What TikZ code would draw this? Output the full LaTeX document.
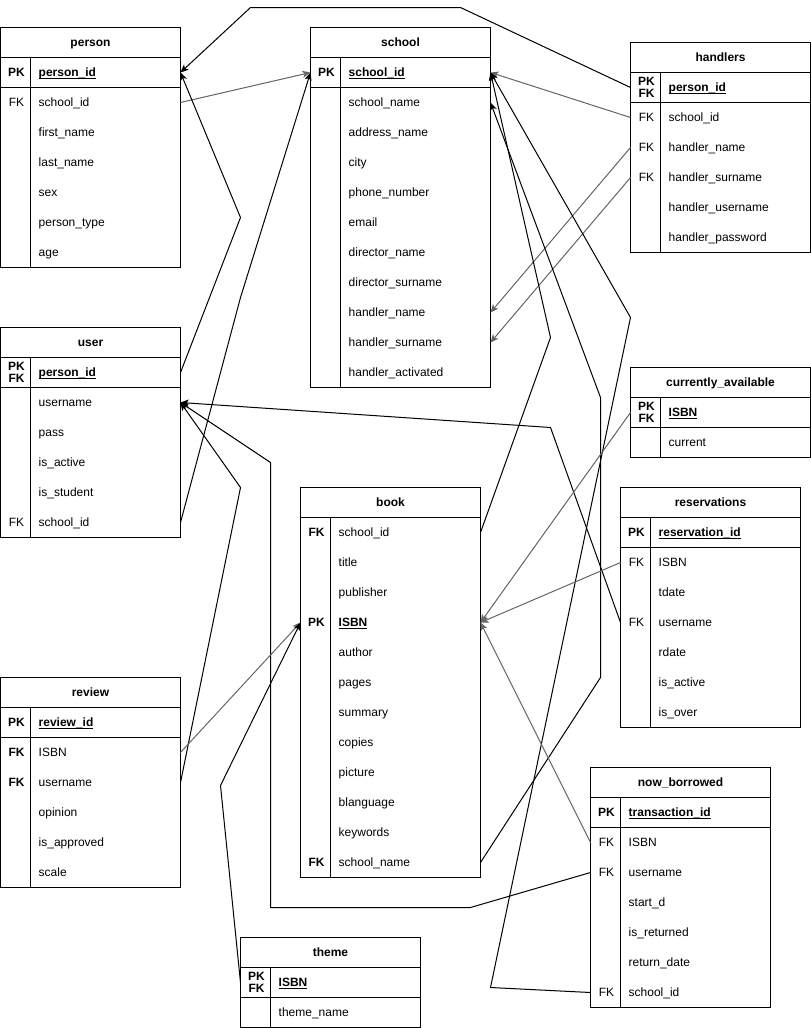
\documentclass[tikz,border=0pt]{standalone}
\usepackage{fontspec}
\setmainfont{Liberation Sans}
\usetikzlibrary{arrows.meta}
\definecolor{edgegray}{HTML}{666666}

% primary key name: bold with an underline at the underscore level
\newcommand\pkname[1]{\setbox0\hbox{\bfseries #1}\rlap{\vrule width \wd0 height -1.3pt depth 2.3pt}\box0}

% one attribute row: name, left x, centre y, key style, key text, field text
\newcommand\erow[6]{%
  \node[rowbox] (#1) at (#2+90,#3) {};
  \node[#4] (#1-k) at (#2+16,#3+4) {#5};
  \node[fieldtext] (#1-f) at (#2+38,#3+4) {#6};}

% table title: name, left x, top y, title
\newcommand\ehead[4]{\node[hdrtext] (#1) at (#2+90,#3+19) {#4};}

% table outline: left x, top y, bottom y
\newcommand\eframe[3]{%
  \draw[tline] (#1,#2) rectangle (#1+180,#3);
  \draw[tline] (#1,#2+30) -- (#1+180,#2+30);
  \draw[tline] (#1+30,#2+30) -- (#1+30,#3);}

% line under the key row: left x, y
\newcommand\ekeyline[2]{\draw[tline] (#1,#2) -- (#1+180,#2);}

\begin{document}
\begin{tikzpicture}[x=1pt,y=-1pt,
  tline/.style={draw=black,line width=1pt},
  rowbox/.style={rectangle,inner sep=0pt,outer sep=0pt,minimum width=180pt,minimum height=30pt},
  keyn/.style={anchor=base,inner sep=0pt,font=\fontsize{12}{14}\selectfont},
  keyb/.style={keyn,font=\fontsize{12}{14}\selectfont\bfseries},
  keytwo/.style={anchor=center,align=center,inner sep=0pt,yshift=4pt,
    font=\fontsize{12}{12.5}\selectfont\bfseries},
  fieldtext/.style={anchor=base west,inner sep=0pt,font=\fontsize{12}{14}\selectfont},
  hdrtext/.style={anchor=base,inner sep=0pt,font=\fontsize{12}{14}\selectfont\bfseries},
  link/.style={draw=black,line width=1pt,line join=round,
    -{Stealth[length=8pt,width=7pt,inset=2pt]}},
  glink/.style={link,draw=edgegray,fill=edgegray}]
\useasboundingbox (-0.5,-0.5) rectangle (810.5,1027.5);

% ---------- person ----------
\eframe{0}{27}{267}\ekeyline{0}{87}
\ehead{person}{0}{27}{person}
\erow{per-pid}{0}{72}{keyb}{PK}{\pkname{person\_id}}
\erow{per-sid}{0}{102}{keyn}{FK}{school\_id}
\erow{per-fn}{0}{132}{keyn}{}{first\_name}
\erow{per-ln}{0}{162}{keyn}{}{last\_name}
\erow{per-sex}{0}{192}{keyn}{}{sex}
\erow{per-pt}{0}{222}{keyn}{}{person\_type}
\erow{per-age}{0}{252}{keyn}{}{age}

% ---------- school ----------
\eframe{310}{27}{387}\ekeyline{310}{87}
\ehead{school}{310}{27}{school}
\erow{sch-id}{310}{72}{keyb}{PK}{\pkname{school\_id}}
\erow{sch-name}{310}{102}{keyn}{}{school\_name}
\erow{sch-addr}{310}{132}{keyn}{}{address\_name}
\erow{sch-city}{310}{162}{keyn}{}{city}
\erow{sch-phone}{310}{192}{keyn}{}{phone\_number}
\erow{sch-email}{310}{222}{keyn}{}{email}
\erow{sch-dn}{310}{252}{keyn}{}{director\_name}
\erow{sch-ds}{310}{282}{keyn}{}{director\_surname}
\erow{sch-hn}{310}{312}{keyn}{}{handler\_name}
\erow{sch-hs}{310}{342}{keyn}{}{handler\_surname}
\erow{sch-ha}{310}{372}{keyn}{}{handler\_activated}

% ---------- handlers ----------
\eframe{630}{42}{252}\ekeyline{630}{102}
\ehead{handlers}{630}{42}{handlers}
\erow{hnd-pid}{630}{87}{keytwo}{PK\\FK}{\pkname{person\_id}}
\erow{hnd-sid}{630}{117}{keyn}{FK}{school\_id}
\erow{hnd-hn}{630}{147}{keyn}{FK}{handler\_name}
\erow{hnd-hs}{630}{177}{keyn}{FK}{handler\_surname}
\erow{hnd-hu}{630}{207}{keyn}{}{handler\_username}
\erow{hnd-hp}{630}{237}{keyn}{}{handler\_password}

% ---------- user ----------
\eframe{0}{327}{537}\ekeyline{0}{387}
\ehead{user}{0}{327}{user}
\erow{usr-pid}{0}{372}{keytwo}{PK\\FK}{\pkname{person\_id}}
\erow{usr-un}{0}{402}{keyn}{}{username}
\erow{usr-pass}{0}{432}{keyn}{}{pass}
\erow{usr-act}{0}{462}{keyn}{}{is\_active}
\erow{usr-stu}{0}{492}{keyn}{}{is\_student}
\erow{usr-sid}{0}{522}{keyn}{FK}{school\_id}

% ---------- currently_available ----------
\eframe{630}{367}{457}\ekeyline{630}{427}
\ehead{curr}{630}{367}{currently\_available}
\erow{cur-isbn}{630}{412}{keytwo}{PK\\FK}{\pkname{ISBN}}
\erow{cur-cur}{630}{442}{keyn}{}{current}

% ---------- book ----------
\eframe{300}{487}{877}
\ehead{book}{300}{487}{book}
\erow{bk-sid}{300}{532}{keyb}{FK}{school\_id}
\erow{bk-title}{300}{562}{keyn}{}{title}
\erow{bk-pub}{300}{592}{keyn}{}{publisher}
\erow{bk-isbn}{300}{622}{keyb}{PK}{\pkname{ISBN}}
\erow{bk-auth}{300}{652}{keyn}{}{author}
\erow{bk-pages}{300}{682}{keyn}{}{pages}
\erow{bk-sum}{300}{712}{keyn}{}{summary}
\erow{bk-cop}{300}{742}{keyn}{}{copies}
\erow{bk-pic}{300}{772}{keyn}{}{picture}
\erow{bk-lang}{300}{802}{keyn}{}{blanguage}
\erow{bk-kw}{300}{832}{keyn}{}{keywords}
\erow{bk-sname}{300}{862}{keyb}{FK}{school\_name}

% ---------- reservations ----------
\eframe{620}{487}{727}\ekeyline{620}{547}
\ehead{reservations}{620}{487}{reservations}
\erow{res-id}{620}{532}{keyb}{PK}{\pkname{reservation\_id}}
\erow{res-isbn}{620}{562}{keyn}{FK}{ISBN}
\erow{res-td}{620}{592}{keyn}{}{tdate}
\erow{res-un}{620}{622}{keyn}{FK}{username}
\erow{res-rd}{620}{652}{keyn}{}{rdate}
\erow{res-act}{620}{682}{keyn}{}{is\_active}
\erow{res-over}{620}{712}{keyn}{}{is\_over}

% ---------- review ----------
\eframe{0}{677}{887}\ekeyline{0}{737}
\ehead{review}{0}{677}{review}
\erow{rev-id}{0}{722}{keyb}{PK}{\pkname{review\_id}}
\erow{rev-isbn}{0}{752}{keyb}{FK}{ISBN}
\erow{rev-un}{0}{782}{keyb}{FK}{username}
\erow{rev-op}{0}{812}{keyn}{}{opinion}
\erow{rev-app}{0}{842}{keyn}{}{is\_approved}
\erow{rev-sc}{0}{872}{keyn}{}{scale}

% ---------- now_borrowed ----------
\eframe{590}{767}{1007}\ekeyline{590}{827}
\ehead{nowb}{590}{767}{now\_borrowed}
\erow{nb-id}{590}{812}{keyb}{PK}{\pkname{transaction\_id}}
\erow{nb-isbn}{590}{842}{keyn}{FK}{ISBN}
\erow{nb-un}{590}{872}{keyn}{FK}{username}
\erow{nb-sd}{590}{902}{keyn}{}{start\_d}
\erow{nb-ret}{590}{932}{keyn}{}{is\_returned}
\erow{nb-rd}{590}{962}{keyn}{}{return\_date}
\erow{nb-sid}{590}{992}{keyn}{FK}{school\_id}

% ---------- theme ----------
\eframe{240}{937}{1027}\ekeyline{240}{997}
\ehead{theme}{240}{937}{theme}
\erow{th-isbn}{240}{982}{keytwo}{PK\\FK}{\pkname{ISBN}}
\erow{th-name}{240}{1012}{keyn}{}{theme\_name}

% ---------- relationships ----------
\draw[glink] (per-sid.east) -- (sch-id.west);
\draw[link] (hnd-pid.west) -- (460,7) -- (250,7) -- (per-pid.east);
\draw[glink] (hnd-sid.west) -- (sch-id.east);
\draw[glink] (hnd-hn.west) -- (sch-hn.east);
\draw[glink] (hnd-hs.west) -- (sch-hs.east);
\draw[link] (usr-pid.east) -- (240,217) -- (per-pid.east);
\draw[link] (usr-sid.east) -- (240,297) -- (sch-id.west);
\draw[link] (res-un.west) -- (550,427) -- (usr-un.east);
\draw[link] (nb-un.west) -- (470,907) -- (270,907) -- (270,462) -- (usr-un.east);
\draw[link] (rev-un.east) -- (240,487) -- (usr-un.east);
\draw[glink] (rev-isbn.east) -- (bk-isbn.west);
\draw[link] (th-isbn.west) -- (220,785) -- (bk-isbn.west);
\draw[link] (bk-sid.east) -- (550,337) -- (sch-id.east);
\draw[link] (bk-sname.east) -- (600,677) -- (600,397) -- (sch-name.east);
\draw[link] (nb-sid.west) -- (490,987) -- (630,317) -- (sch-id.east);
\draw[glink] (nb-isbn.west) -- (bk-isbn.east);
\draw[glink] (res-isbn.west) -- (bk-isbn.east);
\draw[glink] (cur-isbn.west) -- (bk-isbn.east);
\end{tikzpicture}
\end{document}
